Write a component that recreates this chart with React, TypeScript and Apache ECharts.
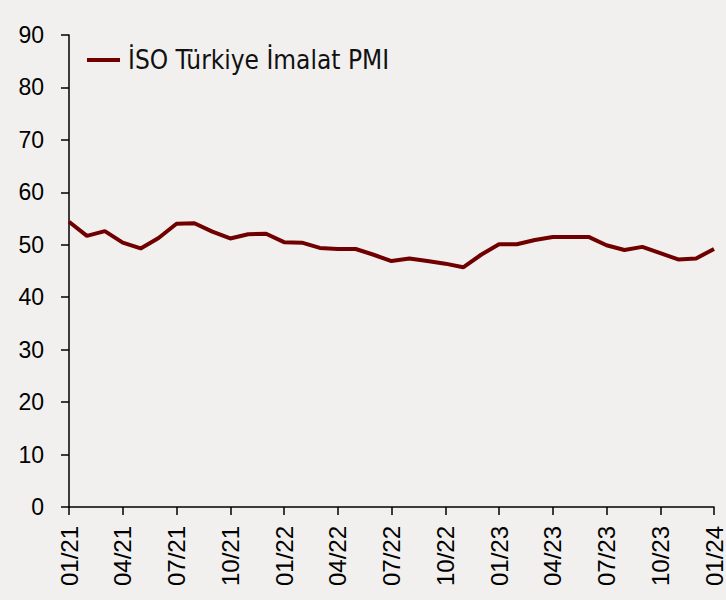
import React, { useEffect, useRef } from "react";
import * as echarts from "echarts";

const months: string[] = [
  "01/21","02/21","03/21","04/21","05/21","06/21","07/21","08/21","09/21","10/21","11/21","12/21",
  "01/22","02/22","03/22","04/22","05/22","06/22","07/22","08/22","09/22","10/22","11/22","12/22",
  "01/23","02/23","03/23","04/23","05/23","06/23","07/23","08/23","09/23","10/23","11/23","12/23",
  "01/24",
];
const pmi: number[] = [
  54.4, 51.7, 52.6, 50.4, 49.3, 51.3, 54.0, 54.1, 52.5, 51.2, 52.0, 52.1,
  50.5, 50.4, 49.4, 49.2, 49.2, 48.1, 46.9, 47.4, 46.9, 46.4, 45.7, 48.1,
  50.1, 50.1, 50.9, 51.5, 51.5, 51.5, 49.9, 49.0, 49.6, 48.4, 47.2, 47.4,
  49.2,
];
const seriesName = "İSO Türkiye İmalat PMI";

export default function App() {
  const ref = useRef<HTMLDivElement>(null);
  useEffect(() => {
    document.body.style.margin = "0";
    const chart = echarts.init(ref.current!, undefined, { renderer: "svg" });
    chart.setOption({
      animation: false,
      backgroundColor: "#F2F0EE",
      grid: { left: 69, right: 11, top: 35, bottom: 93 },
      legend: {
        show: true,
        left: 82,
        top: 42,
        itemWidth: 33,
        itemHeight: 4,
        itemGap: 10,
        icon: "rect",
        textStyle: { fontFamily: "DejaVu Sans Condensed", fontSize: 26, color: "#111", padding: [0, 0, 0, 3] },
        data: [seriesName],
      },
      xAxis: {
        type: "category",
        data: months,
        boundaryGap: false,
        axisLine: { lineStyle: { color: "#000", width: 1.5 } },
        axisTick: { show: true, length: 8, interval: (i: number) => i % 3 === 0, lineStyle: { color: "#000", width: 1.5 } },
        axisLabel: {
          interval: (i: number) => i % 3 === 0,
          rotate: 90,
          margin: 19,
          fontFamily: "Liberation Sans",
          fontSize: 24,
          color: "#000",
        },
        splitLine: { show: false },
      },
      yAxis: {
        type: "value",
        min: 0,
        max: 90,
        interval: 10,
        axisLine: { show: true, lineStyle: { color: "#000", width: 1.5 } },
        axisTick: { show: true, length: 8, lineStyle: { color: "#000", width: 1.5 } },
        axisLabel: { margin: 25, fontFamily: "Liberation Sans", fontSize: 23, color: "#000" },
        splitLine: { show: false },
      },
      series: [
        {
          name: seriesName,
          type: "line",
          data: pmi,
          symbol: "none",
          lineStyle: { color: "#700000", width: 4 },
          itemStyle: { color: "#700000" },
        },
      ],
    });
    return () => chart.dispose();
  }, []);
  return <div ref={ref} style={{ width: 726, height: 600 }} />;
}
